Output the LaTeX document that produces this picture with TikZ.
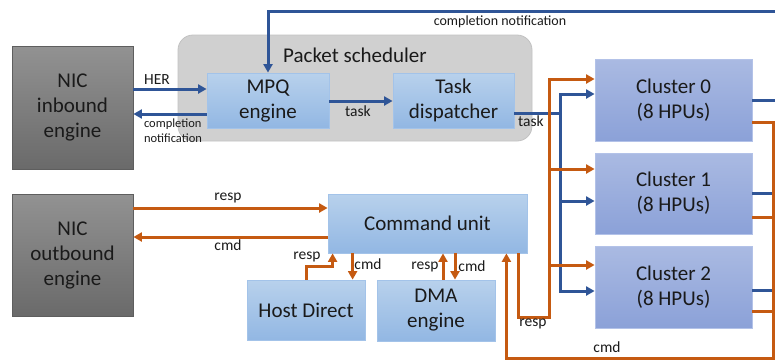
\documentclass[tikz,border=0pt]{standalone}
\usepackage{fontspec}
\setmainfont{Carlito}
\usetikzlibrary{arrows.meta,calc}

\definecolor{lineblue}{HTML}{2F5597}
\definecolor{lineorange}{HTML}{C55A11}
\definecolor{greytop}{HTML}{929292}
\definecolor{greybot}{HTML}{6A6A6A}
\definecolor{greyedge}{HTML}{5E5E5E}
\definecolor{schedfill}{HTML}{D0D0D0}
\definecolor{schededge}{HTML}{C2C2C2}
\definecolor{unittop}{HTML}{B8D1EC}
\definecolor{unitbot}{HTML}{92B7E3}
\definecolor{unitedge}{HTML}{A3C3E9}
\definecolor{clustop}{HTML}{AABAE2}
\definecolor{clusbot}{HTML}{8BA1D8}
\definecolor{clusedge}{HTML}{B3C2E8}
\definecolor{inktext}{HTML}{1A1A1A}

\tikzset{
  bigtext/.style={font=\fontsize{21}{25}\selectfont, text=inktext, align=center},
  engine/.style={bigtext, draw=greyedge, line width=0.8pt, top color=greytop, bottom color=greybot, inner sep=0pt},
  unit/.style={bigtext, draw=unitedge, line width=0.8pt, top color=unittop, bottom color=unitbot, inner sep=0pt},
  cluster/.style={bigtext, draw=clusedge, line width=0.8pt, top color=clustop, bottom color=clusbot, inner sep=0pt},
  bline/.style={draw=lineblue, line width=3pt},
  oline/.style={draw=lineorange, line width=3pt},
  barrow/.style={bline, -{Triangle[length=8.5pt,width=9pt]}},
  oarrow/.style={oline, -{Triangle[length=8.5pt,width=9pt]}},
  lbl/.style={font=\fontsize{15.5}{18}\selectfont, text=inktext, inner sep=0pt},
}

\begin{document}
\begin{tikzpicture}[x=1pt,y=-1pt]
\useasboundingbox[fill=white] (0,0) rectangle (775,360);

% packet scheduler group
\node[draw=schededge, line width=0.8pt, fill=schedfill, rounded corners=15pt,
      minimum width=354pt, minimum height=106pt] (sched) at (355,88) {};
\node[bigtext] (schedtitle) at (355,55) {Packet scheduler};

% engines
\node[engine, minimum width=121pt, minimum height=123pt] (nicin) at (72.5,107.5) {NIC\\inbound\\engine};
\node[engine, minimum width=121pt, minimum height=122pt] (nicout) at (72.5,255) {NIC\\outbound\\engine};

% scheduler units
\node[unit, minimum width=122pt, minimum height=55pt] (mpq) at (268,100.5) {MPQ\\engine};
\node[unit, minimum width=121pt, minimum height=55pt] (task) at (453.5,100.5) {Task\\dispatcher};

% command path units
\node[unit, minimum width=199pt, minimum height=59pt] (cu) at (427.5,223.5) {Command unit};
\node[unit, minimum width=118pt, minimum height=60pt] (hd) at (306,310) {Host Direct};
\node[unit, minimum width=118pt, minimum height=61pt] (dma) at (436,310.5) {DMA\\engine};

% clusters
\node[cluster, minimum width=157pt, minimum height=82pt] (c0) at (673.5,100) {Cluster 0\\(8 HPUs)};
\node[cluster, minimum width=157pt, minimum height=81pt] (c1) at (673.5,193.5) {Cluster 1\\(8 HPUs)};
\node[cluster, minimum width=157pt, minimum height=82pt] (c2) at (673.5,287) {Cluster 2\\(8 HPUs)};

% free ends and bus points
\coordinate (edgeR) at (775,0);
\coordinate (cnR) at (775,11);
\coordinate (bbus) at (560,113);
\coordinate (obus) at (549,317);
\coordinate (ocR) at (773,358);

% inbound engine <-> MPQ engine
\draw[barrow] (nicin.east |- 0,89) -- (mpq.west |- 0,89);
\node[lbl] (herl) at (157,80) {HER};
\draw[barrow] (mpq.west |- 0,114) -- (nicin.east |- 0,114);
\node[font=\fontsize{12.5}{15}\selectfont, text=inktext, align=left, inner sep=0pt] (cnl) at (173,130.5) {completion\\notification};

% MPQ -> task dispatcher
\draw[barrow] (mpq.east |- 0,101) -- (task.west |- 0,101);
\node[lbl] (taskl1) at (358,111) {task};

% task dispatcher -> clusters
\draw[bline] (task.east |- bbus) -- (bbus);
\node[lbl] (taskl2) at (531,121) {task};
\draw[barrow] (bbus) |- ([yshift=6pt]c0.west);
\draw[barrow] (bbus) |- ([yshift=-7.5pt]c1.west);
\draw[barrow] (bbus) |- ([yshift=-4pt]c2.west);

% completion notifications from clusters
\draw[bline] (c0.east) -- (c0.east -| edgeR);
\draw[bline] ([yshift=0.5pt]c1.east) -- ([yshift=0.5pt]c1.east -| edgeR);
\draw[bline] ([yshift=-3pt]c2.east) -- ([yshift=-3pt]c2.east -| edgeR);
\draw[barrow] (cnR) -| (mpq.north);
\node[font=\fontsize{14}{16}\selectfont, text=inktext, inner sep=0pt] (cnl2) at (500,22) {completion notification};

% outbound engine <-> command unit
\draw[oarrow] (nicout.east |- 0,208) -- (cu.west |- 0,208);
\node[lbl] (respl1) at (228,198) {resp};
\draw[oarrow] (cu.west |- 0,237) -- (nicout.east |- 0,237);
\node[lbl] (cmdl1) at (228,245) {cmd};

% host direct <-> command unit
\draw[oarrow] (hd.north) -- ++(0,-13) -| ([xshift=5pt]cu.south west);
\node[lbl] (respl2) at (307,257) {resp};
\draw[oarrow] ([xshift=25pt]cu.south west) -- ([xshift=25pt]cu.south west |- hd.north);
\node[lbl] (cmdl2) at (368,264) {cmd};

% DMA engine <-> command unit
\draw[oarrow] ([xshift=7pt]dma.north) -- ([xshift=7pt]dma.north |- cu.south);
\node[lbl] (respl3) at (425,267) {resp};
\draw[oarrow] ([xshift=19pt]dma.north |- cu.south) -- ([xshift=19pt]dma.north);
\node[lbl] (cmdl3) at (472,266) {cmd};

% command unit -> clusters (resp bus)
\draw[oarrow] ([xshift=-9pt]cu.south east) |- (obus) |- ([yshift=21pt]c0.west);
\draw[oarrow] (obus) |- ([yshift=24.5pt]c1.west);
\draw[oarrow] (obus) |- ([yshift=22pt]c2.west);
\node[lbl] (respl4) at (533,324) {resp};

% clusters -> command unit (cmd return)
\draw[oline] ([yshift=-23.5pt]c1.east) -- ([yshift=-23.5pt]c1.east -| ocR);
\draw[oline] ([yshift=-24pt]c2.east) -- ([yshift=-24pt]c2.east -| ocR);
\draw[oarrow] ([yshift=-22pt]c0.east) -| (ocR) -| ([xshift=-21pt]cu.south east);
\node[lbl] (cmdl4) at (607,347) {cmd};
\end{tikzpicture}
\end{document}
